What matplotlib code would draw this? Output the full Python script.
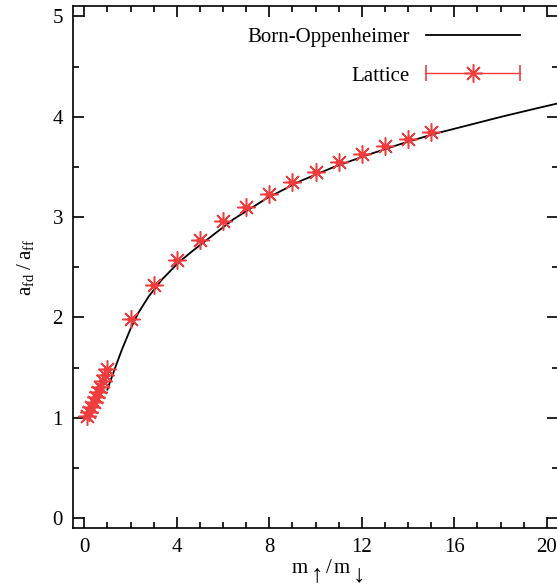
import numpy as np
import matplotlib
matplotlib.use("Agg")
import matplotlib.pyplot as plt
from matplotlib.lines import Line2D
from matplotlib.legend_handler import HandlerLine2D, HandlerTuple

plt.rcParams['font.family'] = ['Liberation Serif', 'DejaVu Serif']
plt.rcParams['mathtext.fontset'] = 'custom'
plt.rcParams['mathtext.rm'] = 'Liberation Serif'
plt.rcParams['mathtext.it'] = 'Liberation Serif:italic'

# Born-Oppenheimer curve
bo_x = [1.0, 1.05, 1.34, 1.63, 1.99, 2.35, 2.79, 3.37, 4.09, 4.67, 5.17, 6.46, 7.91,
        9.35, 10.8, 12.25, 13.7, 15.14, 16.59, 18.03, 19.48, 20.6]
bo_y = [1.28, 1.315, 1.50, 1.68, 1.88, 2.05, 2.21, 2.38, 2.55, 2.66, 2.75, 2.98, 3.19,
        3.36, 3.50, 3.62, 3.73, 3.83, 3.915, 4.00, 4.08, 4.14]

# Lattice points
lat_x = [0.1, 0.2, 0.3, 0.4, 0.5, 0.6, 0.7, 0.8, 0.9, 1.0,
         2, 3, 4, 5, 6, 7, 8, 9, 10, 11, 12, 13, 14, 15]
lat_y = [1.02, 1.06, 1.11, 1.16, 1.21, 1.26, 1.31, 1.37, 1.43, 1.49,
         1.98, 2.32, 2.57, 2.77, 2.96, 3.10, 3.23, 3.35, 3.45, 3.55, 3.63, 3.71, 3.78, 3.85]
lat_err = [0.01] * len(lat_x)

red = '#f03c3c'

fig = plt.figure(figsize=(5.57, 5.87), dpi=100)
ax = fig.add_axes([0.1305, 0.1005, 0.872, 0.8885])

ax.plot(bo_x, bo_y, color='black', lw=1.3)
ax.errorbar(lat_x, lat_y, yerr=lat_err, fmt='none', ecolor=red, elinewidth=1.0, capsize=3)
ax.plot(lat_x, lat_y, ls='none', marker=(8, 2, 0), ms=13, mew=1.1, color=red)

ax.set_xlim(-0.5, 20.5)
ax.set_ylim(-0.1, 5.1)
ax.set_xticks(np.arange(0, 21, 4))
ax.set_xticks(np.arange(0, 21, 1), minor=True)
ax.set_yticks(np.arange(0, 6, 1))
ax.set_yticks(np.arange(0, 5.1, 0.5), minor=True)
ax.tick_params(which='both', direction='in', top=True, right=True, labelsize=15, pad=7)
ax.tick_params(which='major', length=8, width=1.2)
ax.tick_params(which='minor', length=4, width=1.2)
for s in ax.spines.values():
    s.set_linewidth(1.2)

# x label: m with arrows hanging low, as in the original
W, H = 557.0, 587.0
fig.text(292 / W, 1 - 573 / H, 'm', fontsize=15, va='baseline', ha='left')
fig.text(317 / W, 1 - 586 / H, '\u2191', fontsize=18, va='bottom', ha='center')
fig.text(329 / W, 1 - 573 / H, '/', fontsize=15, va='baseline', ha='center')
fig.text(334 / W, 1 - 573 / H, 'm', fontsize=15, va='baseline', ha='left')
fig.text(359 / W, 1 - 586 / H, '\u2193', fontsize=18, va='bottom', ha='center')

ax.set_ylabel(r'$\mathregular{a_{fd}\;/\;a_{ff}}$', fontsize=15, labelpad=12)

bo_h = Line2D([], [], color='black', lw=1.3)
caps = Line2D([], [], color=red, lw=1.0, marker='|', ms=12, mew=1.2)
star = Line2D([], [], ls='none', color=red, marker=(8, 2, 0), ms=13, mew=1.1)
leg = ax.legend([bo_h, (caps, star)], ['Born-Oppenheimer', 'Lattice'],
                handler_map={caps: HandlerLine2D(numpoints=2, marker_pad=0),
                             star: HandlerLine2D(numpoints=1),
                             tuple: HandlerTuple(ndivide=1)},
                loc='upper right', bbox_to_anchor=(0.96, 0.995), frameon=False,
                markerfirst=False, fontsize=15, handlelength=4.5, labelspacing=0.9)
for t in leg.get_texts():
    t.set_ha('right')

fig.savefig('out.png', dpi=100)
